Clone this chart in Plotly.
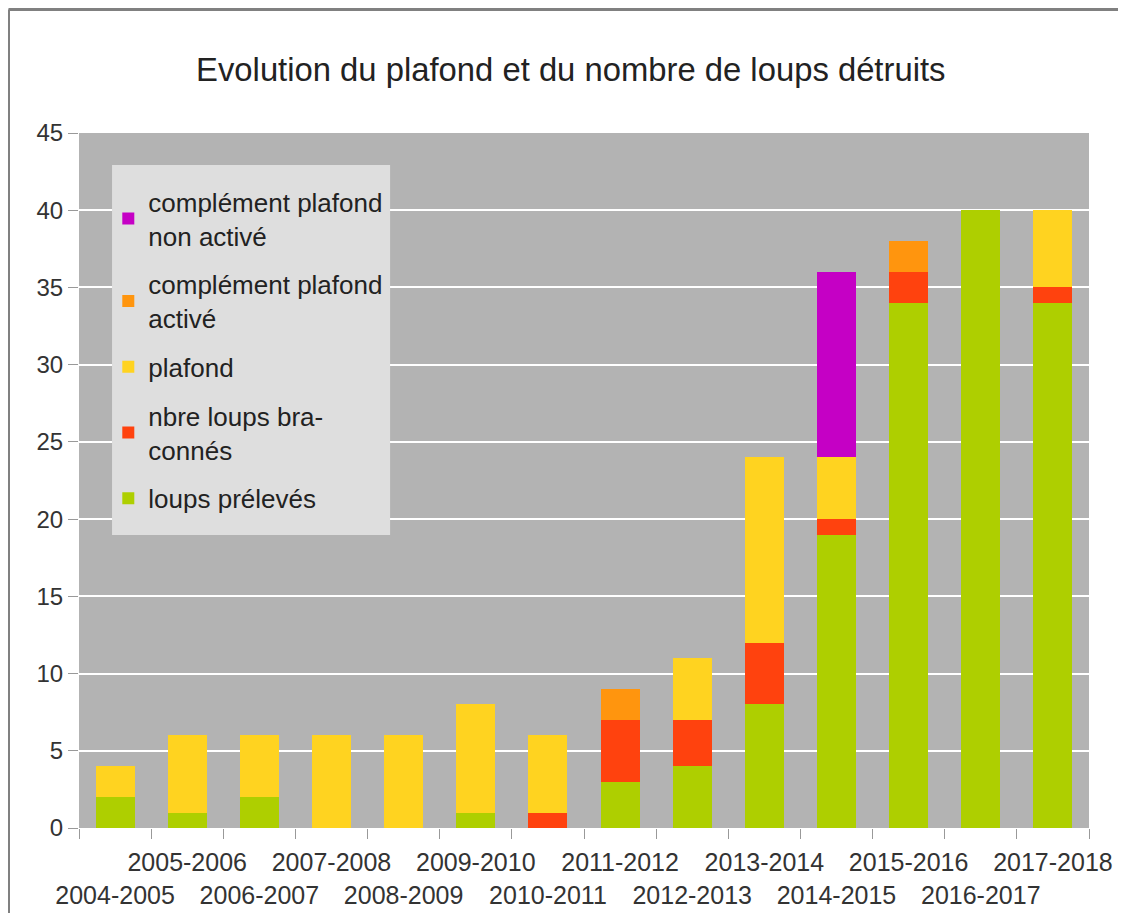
import plotly.graph_objects as go

# Données
saisons = ["2004-2005", "2005-2006", "2006-2007", "2007-2008", "2008-2009",
           "2009-2010", "2010-2011", "2011-2012", "2012-2013", "2013-2014",
           "2014-2015", "2015-2016", "2016-2017", "2017-2018"]
loups_preleves = [2, 1, 2, 0, 0, 1, 0, 3, 4, 8, 19, 34, 40, 34]
loups_braconnes = [0, 0, 0, 0, 0, 0, 1, 4, 3, 4, 1, 2, 0, 1]
plafond = [2, 5, 4, 6, 6, 7, 5, 0, 4, 12, 4, 0, 0, 5]
complement_active = [0, 0, 0, 0, 0, 0, 0, 2, 0, 0, 0, 2, 0, 0]
complement_non_active = [0, 0, 0, 0, 0, 0, 0, 0, 0, 0, 12, 0, 0, 0]

# Étiquettes sur deux rangées (une sur deux décalée vers le bas)
etiquettes = [s if i % 2 else "<br>" + s for i, s in enumerate(saisons)]

series = [
    ("loups prélevés", loups_preleves, "#AECF00"),
    ("nbre loups bra-<br>connés", loups_braconnes, "#FF420E"),
    ("plafond", plafond, "#FFD320"),
    ("complément plafond<br>activé", complement_active, "#FF950E"),
    ("complément plafond<br>non activé", complement_non_active, "#C500C5"),
]

fig = go.Figure()
for i, (nom, valeurs, couleur) in enumerate(series):
    fig.add_trace(go.Bar(
        x=saisons,
        y=valeurs,
        name=nom,
        legendgroup=nom,
        legendrank=len(series) - i,  # légende dans l'ordre inverse de l'empilement
        marker=dict(color=couleur, line=dict(width=0)),
    ))

police = "Liberation Sans, Arial, sans-serif"

# la page html a une marge de 8 px : on compense
fig.update_layout(
    barmode="stack",
    bargap=0.46,
    width=1110,
    height=905,
    margin=dict(l=71, r=29, t=125, b=85, autoexpand=False),
    paper_bgcolor="white",
    plot_bgcolor="#B3B3B3",
    font=dict(family=police, size=24, color="#333333"),
    title=dict(
        text="Evolution du plafond et du nombre de loups détruits",
        x=0.507, xanchor="center",
        y=0.9315, yanchor="middle",
        font=dict(size=32.8, color="#222222"),
    ),
    legend=dict(
        x=0.029, y=0.935, xanchor="left", yanchor="top",
        bgcolor="rgba(0,0,0,0)",
        traceorder="grouped",
        tracegroupgap=12,
        font=dict(size=26, color="#222222"),
    ),
    showlegend=True,
)

# fond de la légende (plus grand que la légende elle-même)
fig.add_shape(type="rect", xref="paper", yref="paper", layer="above",
              x0=0.0327, x1=0.308, y0=0.4216, y1=0.954,
              fillcolor="#DEDEDE", line=dict(width=0))

fig.update_xaxes(
    type="category",
    tickmode="array",
    tickvals=saisons,
    ticktext=etiquettes,
    tickangle=0,
    tickson="boundaries",
    ticks="outside",
    ticklen=10,
    tickcolor="#999999",
    ticklabelstandoff=17,
    automargin=False,
    showgrid=False,
    showline=False,
    tickfont=dict(size=25, color="#333333"),
)
fig.update_yaxes(
    range=[0, 45],
    dtick=5,
    ticks="outside",
    ticklen=10,
    tickcolor="#999999",
    automargin=False,
    showgrid=True,
    gridcolor="white",
    gridwidth=2,
    zeroline=False,
    tickfont=dict(size=24, color="#333333"),
)

# Cadre gris autour de l'image (bord gauche et bord haut)
fig.add_shape(type="line", xref="paper", yref="paper",
              x0=-0.0698, x1=-0.0698, y0=-0.2, y1=1.1777,
              line=dict(color="#808080", width=3))
fig.add_shape(type="line", xref="paper", yref="paper",
              x0=-0.0698, x1=1.2, y0=1.1777, y1=1.1777,
              line=dict(color="#808080", width=3))

fig.write_html("out.html")
